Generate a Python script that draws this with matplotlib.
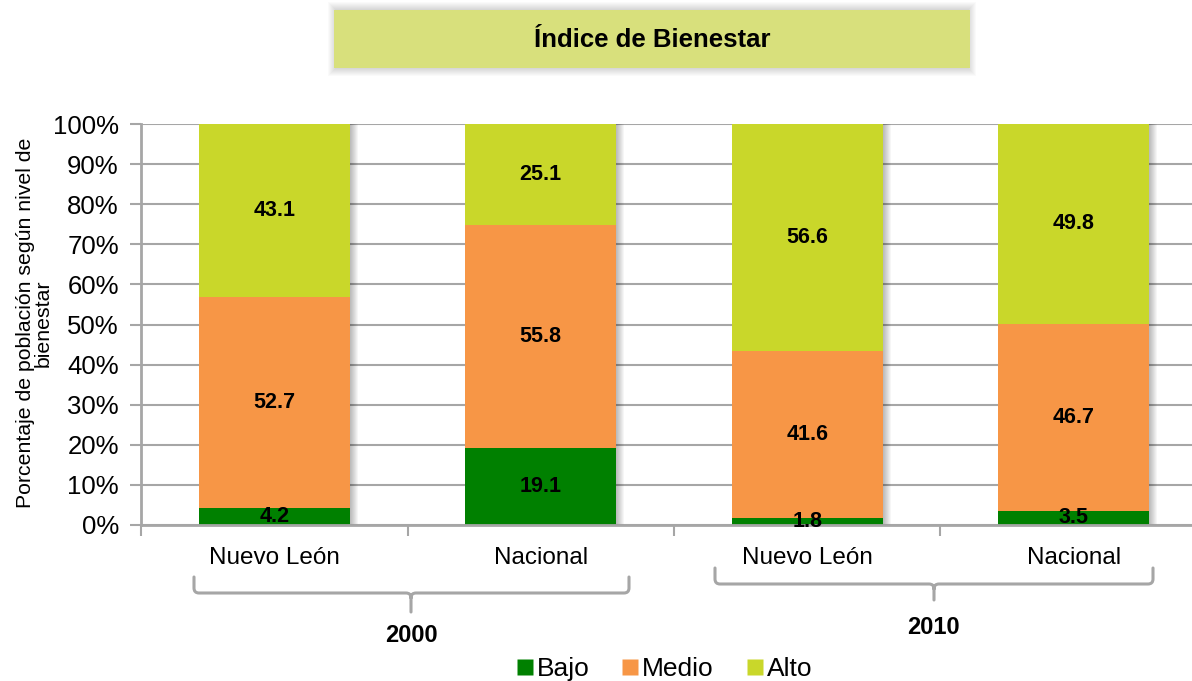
import matplotlib
matplotlib.use("Agg")
import matplotlib.pyplot as plt
import numpy as np
from matplotlib.patches import Rectangle, PathPatch
from matplotlib.path import Path
from matplotlib.lines import Line2D

plt.rcParams['font.family'] = ['Liberation Sans', 'DejaVu Sans']

title = "Índice de Bienestar"
categories = ["Nuevo León", "Nacional", "Nuevo León", "Nacional"]
years = ["2000", "2010"]
series_names = ["Bajo", "Medio", "Alto"]
bajo = [4.2, 19.1, 1.8, 3.5]
medio = [52.7, 55.8, 41.6, 46.7]
alto = [43.1, 25.1, 56.6, 49.8]
yticks = [0, 10, 20, 30, 40, 50, 60, 70, 80, 90, 100]
ylabel = "Porcentaje de población según nivel de\nbienestar"

colors = ["#008000", "#F79646", "#C9D72A"]
grid_c = "#A6A6A6"

W, H = 1192, 681
fig = plt.figure(figsize=(W / 100, H / 100), dpi=100)

def fx(px):
    return px / W

def fy(py):
    return 1 - py / H

left_px, right_px = 141, 141 + 4 * 266.5
top_px, bot_px = 124, 525
ax = fig.add_axes([fx(left_px), fy(bot_px), fx(right_px - left_px), (bot_px - top_px) / H])
ax.set_xlim(-0.5, 3.5)
ax.set_ylim(0, 100)

x = np.arange(len(categories))
bw = 151 / 266.5
px_unit = 1 / 266.5

tot = np.array(bajo) + np.array(medio) + np.array(alto)
# soft shadow to the right of bars
for k in range(1, 9):
    ax.bar(x + k * px_unit, tot, width=bw, color="black", alpha=0.035, zorder=1, linewidth=0)

series = [bajo, medio, alto]
bottom = np.zeros(len(categories))
for vals, col, name in zip(series, colors, series_names):
    vals = np.array(vals)
    ax.bar(x, vals, width=bw, bottom=bottom, color=col, label=name, zorder=2, linewidth=0)
    for xi, b, v in zip(x, bottom, vals):
        ax.text(xi, b + v / 2, f"{v:.1f}", ha="center", va="center",
                fontsize=15.5, fontweight="bold", color="black", zorder=5)
    bottom = bottom + vals

ax.set_yticks(yticks)
ax.set_yticklabels([f"{t}%" for t in yticks], fontsize=18.5)
ax.yaxis.grid(True, color=grid_c, linewidth=1.5, zorder=0)
ax.set_axisbelow(True)
ax.set_xticks(x)
ax.set_xticklabels(categories, fontsize=17.5)
ax.tick_params(axis="x", length=0, pad=16)
ax.set_xticks(np.arange(-0.5, 4, 1), minor=True)
ax.tick_params(axis="x", which="minor", length=8, width=1.5, color=grid_c, direction="out")
ax.tick_params(axis="y", length=8, width=1.5, color=grid_c, direction="out", pad=8)
for s in ["top", "right"]:
    ax.spines[s].set_visible(False)
for s in ["left", "bottom"]:
    ax.spines[s].set_color(grid_c)
    ax.spines[s].set_linewidth(2)

fig.text(fx(34), fy(323), ylabel, rotation=90, ha="center", va="center",
         fontsize=15.3, linespacing=0.9)

# title box
for k in range(8, 0, -1):
    fig.patches.append(Rectangle((fx(334 - k + 2), fy(68 + k)), fx(636 + 2 * k - 4), (58 + 2 * k) / H,
                                 transform=fig.transFigure, facecolor="black", alpha=0.018,
                                 edgecolor="none", zorder=0))
fig.patches.append(Rectangle((fx(334), fy(68)), fx(636), 58 / H, transform=fig.transFigure,
                             facecolor="#D8E07C", edgecolor="none", zorder=1))
fig.text(fx(652), fy(40), title, ha="center", va="center", fontsize=18.5, fontweight="bold")

# brackets
def bracket(x0, x1, xc, ytop, yh, ynotch, r=5):
    verts = [
        (x0, ytop), (x0, yh - r), (x0, yh), (x0 + r, yh),
        (xc - r, yh), (xc, yh), (xc, yh + r), (xc, ynotch),
        (xc, yh + r), (xc, yh), (xc + r, yh),
        (x1 - r, yh), (x1, yh), (x1, yh - r), (x1, ytop),
    ]
    codes = [Path.MOVETO, Path.LINETO, Path.CURVE3, Path.CURVE3,
             Path.LINETO, Path.CURVE3, Path.CURVE3, Path.LINETO,
             Path.MOVETO, Path.CURVE3, Path.CURVE3,
             Path.LINETO, Path.CURVE3, Path.CURVE3, Path.LINETO]
    verts = [(fx(a), fy(b)) for a, b in verts]
    fig.patches.append(PathPatch(Path(verts, codes), transform=fig.transFigure,
                                 facecolor="none", edgecolor=grid_c, linewidth=2.2,
                                 capstyle="round", joinstyle="round"))

bracket(194, 629, 411, 577, 593, 612)
bracket(715, 1153, 934, 568, 584, 600)
fig.text(fx(411), fy(635), years[0], ha="center", va="center", fontsize=17, fontweight="bold")
fig.text(fx(933), fy(628), years[1], ha="center", va="center", fontsize=17, fontweight="bold")

handles = [Line2D([0], [0], marker="s", linestyle="none", markersize=12,
                  markerfacecolor=c, markeredgecolor="none") for c in colors]
fig.legend(handles, series_names, loc="center", bbox_to_anchor=(fx(664), fy(669)),
           ncol=3, frameon=False, fontsize=19, handletextpad=0.1, columnspacing=1.2,
           handlelength=0.7, borderpad=0)

fig.savefig("out.png", dpi=100)
